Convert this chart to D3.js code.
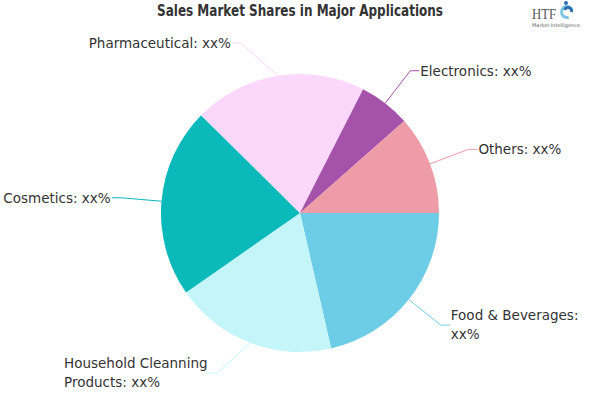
<!DOCTYPE html>
<html><head><meta charset="utf-8">
<script src="https://cdn.jsdelivr.net/npm/d3@7"></script>
<style>html,body{margin:0;padding:0;background:#fff;}svg{display:block;}</style>
</head><body>
<svg id="chart" width="600" height="400"></svg>
<script>
const title = "Sales Market Shares in Major Applications";
const categories = ["Food & Beverages", "Household Cleanning Products", "Cosmetics", "Pharmaceutical", "Electronics", "Others"];
const shares = [21.4, 18.9, 22.1, 20.1, 6.0, 11.5];
const valueLabels = ["xx%", "xx%", "xx%", "xx%", "xx%", "xx%"];
const colors = ["#6ecde6", "#c4f6f9", "#0ab9b9", "#fbd7fb", "#a552aa", "#ee9ca7"];

const W = 600, H = 400;
const cx = 300, cy = 213, r = 139;
const R2 = r + 41;
const yMin = cy - 170, yMax = cy + 160;
const FS = 13.5;
const maxLabelW = 150;
const svg = d3.select("#chart");

const data = categories.map((c, i) => ({name: c, value: shares[i], label: valueLabels[i], color: colors[i]}));
const pie = d3.pie().sort(null).value(d => d.value).startAngle(Math.PI / 2).endAngle(Math.PI / 2 + 2 * Math.PI);
const arcs = pie(data);
const arc = d3.arc().innerRadius(0).outerRadius(r);

const g = svg.append("g").attr("transform", `translate(${cx},${cy})`);
g.selectAll("path.slice").data(arcs).join("path").attr("class", "slice")
  .attr("d", arc).attr("fill", d => d.data.color);

// labels
const lab = svg.append("g");
arcs.forEach(a => {
  const mid = (a.startAngle + a.endAngle) / 2;
  const sx = Math.sin(mid), cyy = -Math.cos(mid);
  const p0 = [cx + r * sx, cy + r * cyy];
  let ey = cy + R2 * cyy;
  ey = Math.max(yMin, Math.min(yMax, ey));
  const dy = ey - cy;
  const side = sx >= 0 ? 1 : -1;
  const ex = cx + side * Math.sqrt(Math.max(0, R2 * R2 - dy * dy));
  const hx = ex + side * 9;
  lab.append("polyline")
    .attr("points", [p0, [ex, ey], [hx, ey]].map(p => p.join(",")).join(" "))
    .attr("fill", "none").attr("stroke", a.data.color).attr("stroke-width", 1);

  const tx = hx + side * 1;
  const full = a.data.name + ": " + a.data.label;
  const avail = Math.min(maxLabelW, side > 0 ? (W - 2 - tx) : tx);
  const t = lab.append("text")
    .attr("font-family", "DejaVu Sans, Verdana, sans-serif")
    .attr("font-size", FS).attr("fill", "#333");
  const words = full.split(" ");
  const lines = [];
  let cur = "";
  const meas = lab.append("text").attr("font-family", "DejaVu Sans, Verdana, sans-serif").attr("font-size", FS);
  const width = s => { meas.text(s); return meas.node().getComputedTextLength(); };
  words.forEach(w => {
    const test = cur ? cur + " " + w : w;
    if (cur && width(test) > avail) { lines.push(cur); cur = w; } else cur = test;
  });
  if (cur) lines.push(cur);
  const blockW = d3.max(lines, l => width(l));
  meas.remove();
  const lh = 19;
  const left = side > 0 ? tx : tx - blockW;
  lines.forEach((l, i) => {
    t.append("tspan").attr("x", left)
      .attr("y", ey + (i - (lines.length - 1) / 2) * lh)
      .attr("dy", "0.36em").text(l);
  });
});

// title
svg.append("text").attr("x", 300).attr("y", 15.5).attr("text-anchor", "middle")
  .attr("font-family", "Liberation Sans Narrow, DejaVu Sans Condensed, sans-serif")
  .attr("font-weight", "bold").attr("font-size", 15).attr("fill", "#333")
  .attr("textLength", 286).attr("lengthAdjust", "spacingAndGlyphs").text(title);

// logo
const logo = svg.append("g");
logo.append("text").attr("x", 532).attr("y", 19).attr("font-family", "Liberation Serif, serif")
  .attr("font-size", 14).attr("fill", "#555").attr("textLength", 24).attr("lengthAdjust", "spacingAndGlyphs").text("HTF");
logo.append("text").attr("x", 532).attr("y", 26.5).attr("font-family", "DejaVu Sans, sans-serif")
  .attr("font-size", 5).attr("fill", "#666").attr("textLength", 48).attr("lengthAdjust", "spacingAndGlyphs").text("Market Intelligence");
logo.append("path").attr("d", d3.arc()({innerRadius: 4, outerRadius: 7, startAngle: Math.PI * 0.9, endAngle: Math.PI * 2.4}))
  .attr("transform", "translate(567,12)").attr("fill", "#7fc4e6");
logo.append("path").attr("d", d3.arc()({innerRadius: 2, outerRadius: 5, startAngle: -Math.PI * 0.4, endAngle: Math.PI * 0.6}))
  .attr("transform", "translate(568,11)").attr("fill", "#2b6fb0");
logo.append("circle").attr("cx", 566).attr("cy", 3).attr("r", 2).attr("fill", "#2b6fb0");
</script>
</body></html>
